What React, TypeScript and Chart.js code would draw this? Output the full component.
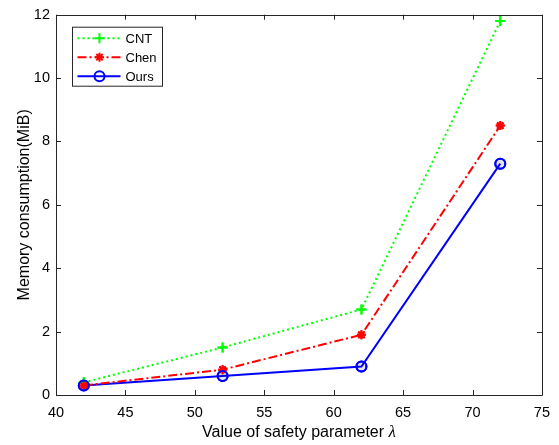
import React, { useEffect, useRef } from "react";
import { Chart, registerables } from "chart.js";
Chart.register(...registerables);

const xValues = [42, 52, 62, 72];
const cntValues = [0.4, 1.5, 2.7, 11.8];
const chenValues = [0.3, 0.8, 1.9, 8.5];
const oursValues = [0.3, 0.6, 0.9, 7.3];
const seriesLabels = ["CNT", "Chen", "Ours"];
const xTitleText = "Value of safety parameter ";
const xTitleSymbol = "λ";
const yTitle = "Memory consumption(MiB)";

const FONT = "'Liberation Sans', Arial, Helvetica, sans-serif";
const AXIS = "#262626";

function drawMarker(ctx: CanvasRenderingContext2D, style: string, x: number, y: number, r: number, color: string, lw: number) {
  ctx.save();
  ctx.strokeStyle = color;
  ctx.lineWidth = lw;
  ctx.setLineDash([]);
  ctx.beginPath();
  if (style === "cross") {
    ctx.moveTo(x - r, y); ctx.lineTo(x + r, y);
    ctx.moveTo(x, y - r); ctx.lineTo(x, y + r);
  } else if (style === "star") {
    ctx.moveTo(x - r, y); ctx.lineTo(x + r, y);
    ctx.moveTo(x, y - r); ctx.lineTo(x, y + r);
    const d = r * 0.7071;
    ctx.moveTo(x - d, y - d); ctx.lineTo(x + d, y + d);
    ctx.moveTo(x - d, y + d); ctx.lineTo(x + d, y - d);
  } else {
    ctx.arc(x, y, r, 0, Math.PI * 2);
  }
  ctx.stroke();
  ctx.restore();
}

const matlabPlugin = {
  id: "matlabAxes",
  afterDraw(chart: any) {
    const ctx: CanvasRenderingContext2D = chart.ctx;
    const { left, right, top, bottom } = chart.chartArea;
    const xs = chart.scales.x;
    const ys = chart.scales.y;
    ctx.save();
    ctx.strokeStyle = AXIS;
    ctx.lineWidth = 1;
    ctx.setLineDash([]);
    ctx.beginPath();
    ctx.rect(Math.round(left) + 0.5, Math.round(top) + 0.5, Math.round(right - left), Math.round(bottom - top));
    ctx.stroke();
    const tl = 5;
    ctx.beginPath();
    xs.ticks.forEach((t: any) => {
      const px = Math.round(xs.getPixelForValue(t.value)) + 0.5;
      ctx.moveTo(px, bottom); ctx.lineTo(px, bottom - tl);
      ctx.moveTo(px, top); ctx.lineTo(px, top + tl);
    });
    ys.ticks.forEach((t: any) => {
      const py = Math.round(ys.getPixelForValue(t.value)) + 0.5;
      ctx.moveTo(left, py); ctx.lineTo(left + tl, py);
      ctx.moveTo(right, py); ctx.lineTo(right - tl, py);
    });
    ctx.stroke();

    // x title with italic lambda
    const normalFont = `16px ${FONT}`;
    const symFont = `italic 17px 'Liberation Serif', 'DejaVu Serif', serif`;
    ctx.font = normalFont;
    const w1 = ctx.measureText(xTitleText).width;
    ctx.font = symFont;
    const w2 = ctx.measureText(xTitleSymbol).width;
    const cx = (left + right) / 2;
    const sx = cx - (w1 + w2) / 2;
    const ty = 433;
    ctx.fillStyle = "#000000";
    ctx.textBaseline = "middle";
    ctx.textAlign = "left";
    ctx.font = normalFont;
    ctx.fillText(xTitleText, sx, ty);
    ctx.font = symFont;
    ctx.fillText(xTitleSymbol, sx + w1, ty);

    // legend
    const bx = left + 16.5, by = top + 12.5, bw = 90, bh = 59;
    ctx.fillStyle = "#ffffff";
    ctx.fillRect(bx, by, bw, bh);
    ctx.strokeStyle = AXIS;
    ctx.lineWidth = 1;
    ctx.strokeRect(bx, by, bw, bh);
    ctx.font = `13px ${FONT}`;
    ctx.textBaseline = "middle";
    ctx.textAlign = "left";
    chart.data.datasets.forEach((ds: any, i: number) => {
      const yy = by + 11 + i * 19;
      ctx.save();
      ctx.strokeStyle = ds.borderColor;
      ctx.lineWidth = ds.borderWidth;
      ctx.setLineDash(ds.borderDash || []);
      ctx.beginPath();
      ctx.moveTo(bx + 5, yy); ctx.lineTo(bx + 48, yy);
      ctx.stroke();
      ctx.restore();
      drawMarker(ctx, ds.pointStyle, bx + 27, yy, ds.pointRadius, ds.borderColor, ds.pointBorderWidth);
      ctx.fillStyle = "#000000";
      ctx.fillText(ds.label, bx + 53, yy + 1);
    });
    ctx.restore();
  },
};

const markerPlugin = {
  id: "markers",
  afterDatasetsDraw(chart: any) {
    const ctx = chart.ctx;
    chart.data.datasets.forEach((ds: any, i: number) => {
      const meta = chart.getDatasetMeta(i);
      meta.data.forEach((pt: any) => {
        drawMarker(ctx, ds.pointStyle, pt.x, pt.y, ds.pointRadius, ds.borderColor, ds.pointBorderWidth);
      });
    });
  },
};

function toPoints(vals: number[]) {
  return vals.map((v, i) => ({ x: xValues[i], y: v }));
}

export default function App() {
  const ref = useRef<HTMLCanvasElement>(null);
  useEffect(() => {
    document.body.style.margin = "0";
    const chart = new Chart(ref.current!, {
      type: "line",
      data: {
        datasets: [
          {
            label: seriesLabels[0], data: toPoints(cntValues), borderColor: "#00ff00", borderWidth: 2,
            borderDash: [2, 3], pointStyle: "cross", pointRadius: 5, pointBorderWidth: 2,
          } as any,
          {
            label: seriesLabels[1], data: toPoints(chenValues), borderColor: "#ff0000", borderWidth: 2,
            borderDash: [9, 3, 2, 3], pointStyle: "star", pointRadius: 4.5, pointBorderWidth: 2,
          } as any,
          {
            label: seriesLabels[2], data: toPoints(oursValues), borderColor: "#0000ff", borderWidth: 2,
            borderDash: [], pointStyle: "circle", pointRadius: 5, pointBorderWidth: 2,
          } as any,
        ],
      },
      options: {
        responsive: false,
        animation: false,
        elements: { point: { radius: 0, hoverRadius: 0 }, line: { tension: 0 } },
        datasets: { line: { pointRadius: 0 } } as any,
        layout: { padding: { top: 13, right: 16, left: 0, bottom: 0 } },
        plugins: { legend: { display: false }, tooltip: { enabled: false } },
        scales: {
          x: {
            type: "linear", min: 40, max: 75,
            ticks: { stepSize: 5, padding: 9, color: "#000", font: { family: FONT, size: 14.5 } },
            grid: { display: false, drawTicks: false },
            border: { display: false },
            title: { display: false },
            afterFit: (s: any) => { s.height = 50; },
          },
          y: {
            type: "linear", min: 0, max: 12,
            ticks: { stepSize: 2, padding: 6, color: "#000", font: { family: FONT, size: 14.5 } },
            grid: { display: false, drawTicks: false },
            border: { display: false },
            title: { display: true, text: yTitle, color: "#000", font: { family: FONT, size: 16 }, padding: { top: 15, bottom: 4 } },
            afterFit: (s: any) => { s.width = 56; },
          },
        },
      },
      plugins: [markerPlugin, matlabPlugin],
    });
    return () => chart.destroy();
  }, []);
  return <canvas ref={ref} width={559} height={445} />;
}
